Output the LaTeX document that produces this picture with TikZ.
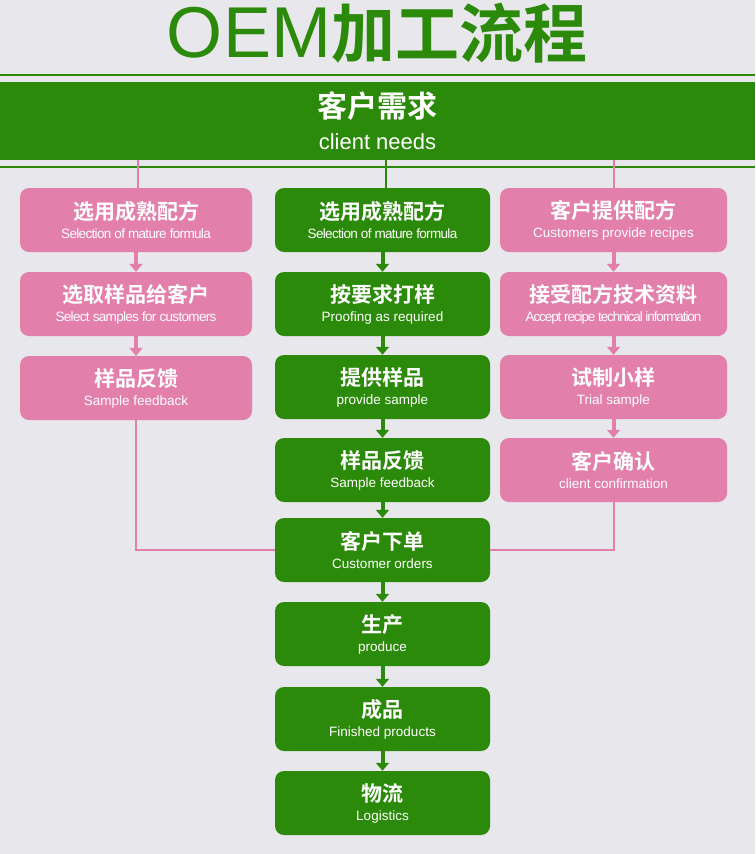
\documentclass[tikz,border=0pt]{standalone}
\usepackage{fontspec}
\newfontfamily\cjk{Noto Sans CJK SC}[BoldFont={Noto Sans CJK SC Bold}]
\setmainfont{Liberation Sans}
\usetikzlibrary{arrows.meta}
\definecolor{gr}{HTML}{2C8A0A}
\definecolor{pk}{HTML}{E27FAA}
\definecolor{bg}{HTML}{E7E7EC}
\tikzset{
 box/.style={rounded corners=9pt,minimum height=64pt,align=center,text=white,inner sep=1pt},
 gbox/.style={box,fill=gr,minimum width=215pt},
 lbox/.style={box,fill=pk,minimum width=232pt},
 rbox/.style={box,fill=pk,minimum width=227pt},
 garr/.style={gr,line width=4pt,-{Triangle[width=13pt,length=8pt]}},
 parr/.style={pk,line width=4pt,-{Triangle[width=13pt,length=8pt]}},
 gline/.style={gr,line width=2.5pt},
 pline/.style={pk,line width=2.5pt},
}
\newcommand{\bx}[2]{{\cjk\bfseries\fontsize{21}{22}\selectfont #1}\\[7pt]{\fontsize{13.5}{15}\selectfont #2}}
\begin{document}
\begin{tikzpicture}[x=1pt,y=-1pt]
\fill[bg] (0,0) rectangle (755,854);
\useasboundingbox (0,0) rectangle (755,854);
\node[text=gr] (title) at (377,33) {\fontsize{72}{74}\selectfont OEM{\cjk\bfseries\fontsize{64}{66}\selectfont 加工流程}};
\draw[gr,line width=2.5pt] (0,75) -- (755,75);
\draw[gr,line width=2.5pt] (0,167) -- (755,167);
\node[fill=gr,minimum width=755pt,minimum height=78pt,inner sep=0pt,align=center,text=white] (ban) at (377.5,121)
 {{\cjk\bfseries\fontsize{30}{30}\selectfont 客户需求}\\[12pt]{\fontsize{22}{24}\selectfont client needs}};
% left
\node[lbox] (l1) at (136,220) {\bx{选用成熟配方}{\addfontfeature{LetterSpace=-5}Selection of mature formula}};
\node[lbox] (l2) at (136,304) {\bx{选取样品给客户}{\addfontfeature{LetterSpace=-5}Select samples for customers}};
\node[lbox] (l3) at (136,388) {\bx{样品反馈}{Sample feedback}};
% middle
\node[gbox] (m1) at (382.5,220) {\bx{选用成熟配方}{\addfontfeature{LetterSpace=-5}Selection of mature formula}};
\node[gbox] (m2) at (382.5,304) {\bx{按要求打样}{Proofing as required}};
\node[gbox] (m3) at (382.5,387) {\bx{提供样品}{provide sample}};
\node[gbox] (m4) at (382.5,470) {\bx{样品反馈}{Sample feedback}};
\node[gbox] (m5) at (382.5,550) {\bx{客户下单}{Customer orders}};
\node[gbox] (m6) at (382.5,634) {\bx{生产}{produce}};
\node[gbox] (m7) at (382.5,719) {\bx{成品}{Finished products}};
\node[gbox] (m8) at (382.5,803) {\bx{物流}{Logistics}};
% right
\node[rbox] (r1) at (613.5,220) {\bx{客户提供配方}{Customers provide recipes}};
\node[rbox] (r2) at (613.5,304) {\bx{接受配方技术资料}{\addfontfeature{LetterSpace=-8}Accept recipe technical information}};
\node[rbox] (r3) at (613.5,387) {\bx{试制小样}{Trial sample}};
\node[rbox] (r4) at (613.5,470) {\bx{客户确认}{client confirmation}};
% lines from banner
\draw[pline] (ban.south -| 138,0) -- (l1.north -| 138,0);
\draw[gline] (ban.south -| 386,0) -- (m1.north -| 386,0);
\draw[pline] (ban.south -| 614,0) -- (r1.north -| 614,0);
% arrows
\foreach \a/\b in {l1/l2,l2/l3} \draw[parr] (\a.south) -- (\b.north);
\foreach \a/\b in {r1/r2,r2/r3,r3/r4} \draw[parr] (\a.south) -- (\b.north);
\foreach \a/\b in {m1/m2,m2/m3,m3/m4,m4/m5,m5/m6,m6/m7,m7/m8} \draw[garr] (\a.south) -- (\b.north);
% joins
\draw[pline] (l3.south -| 136,0) |- (m5.west);
\draw[pline] (r4.south -| 614,0) |- (m5.east);
\end{tikzpicture}
\end{document}
